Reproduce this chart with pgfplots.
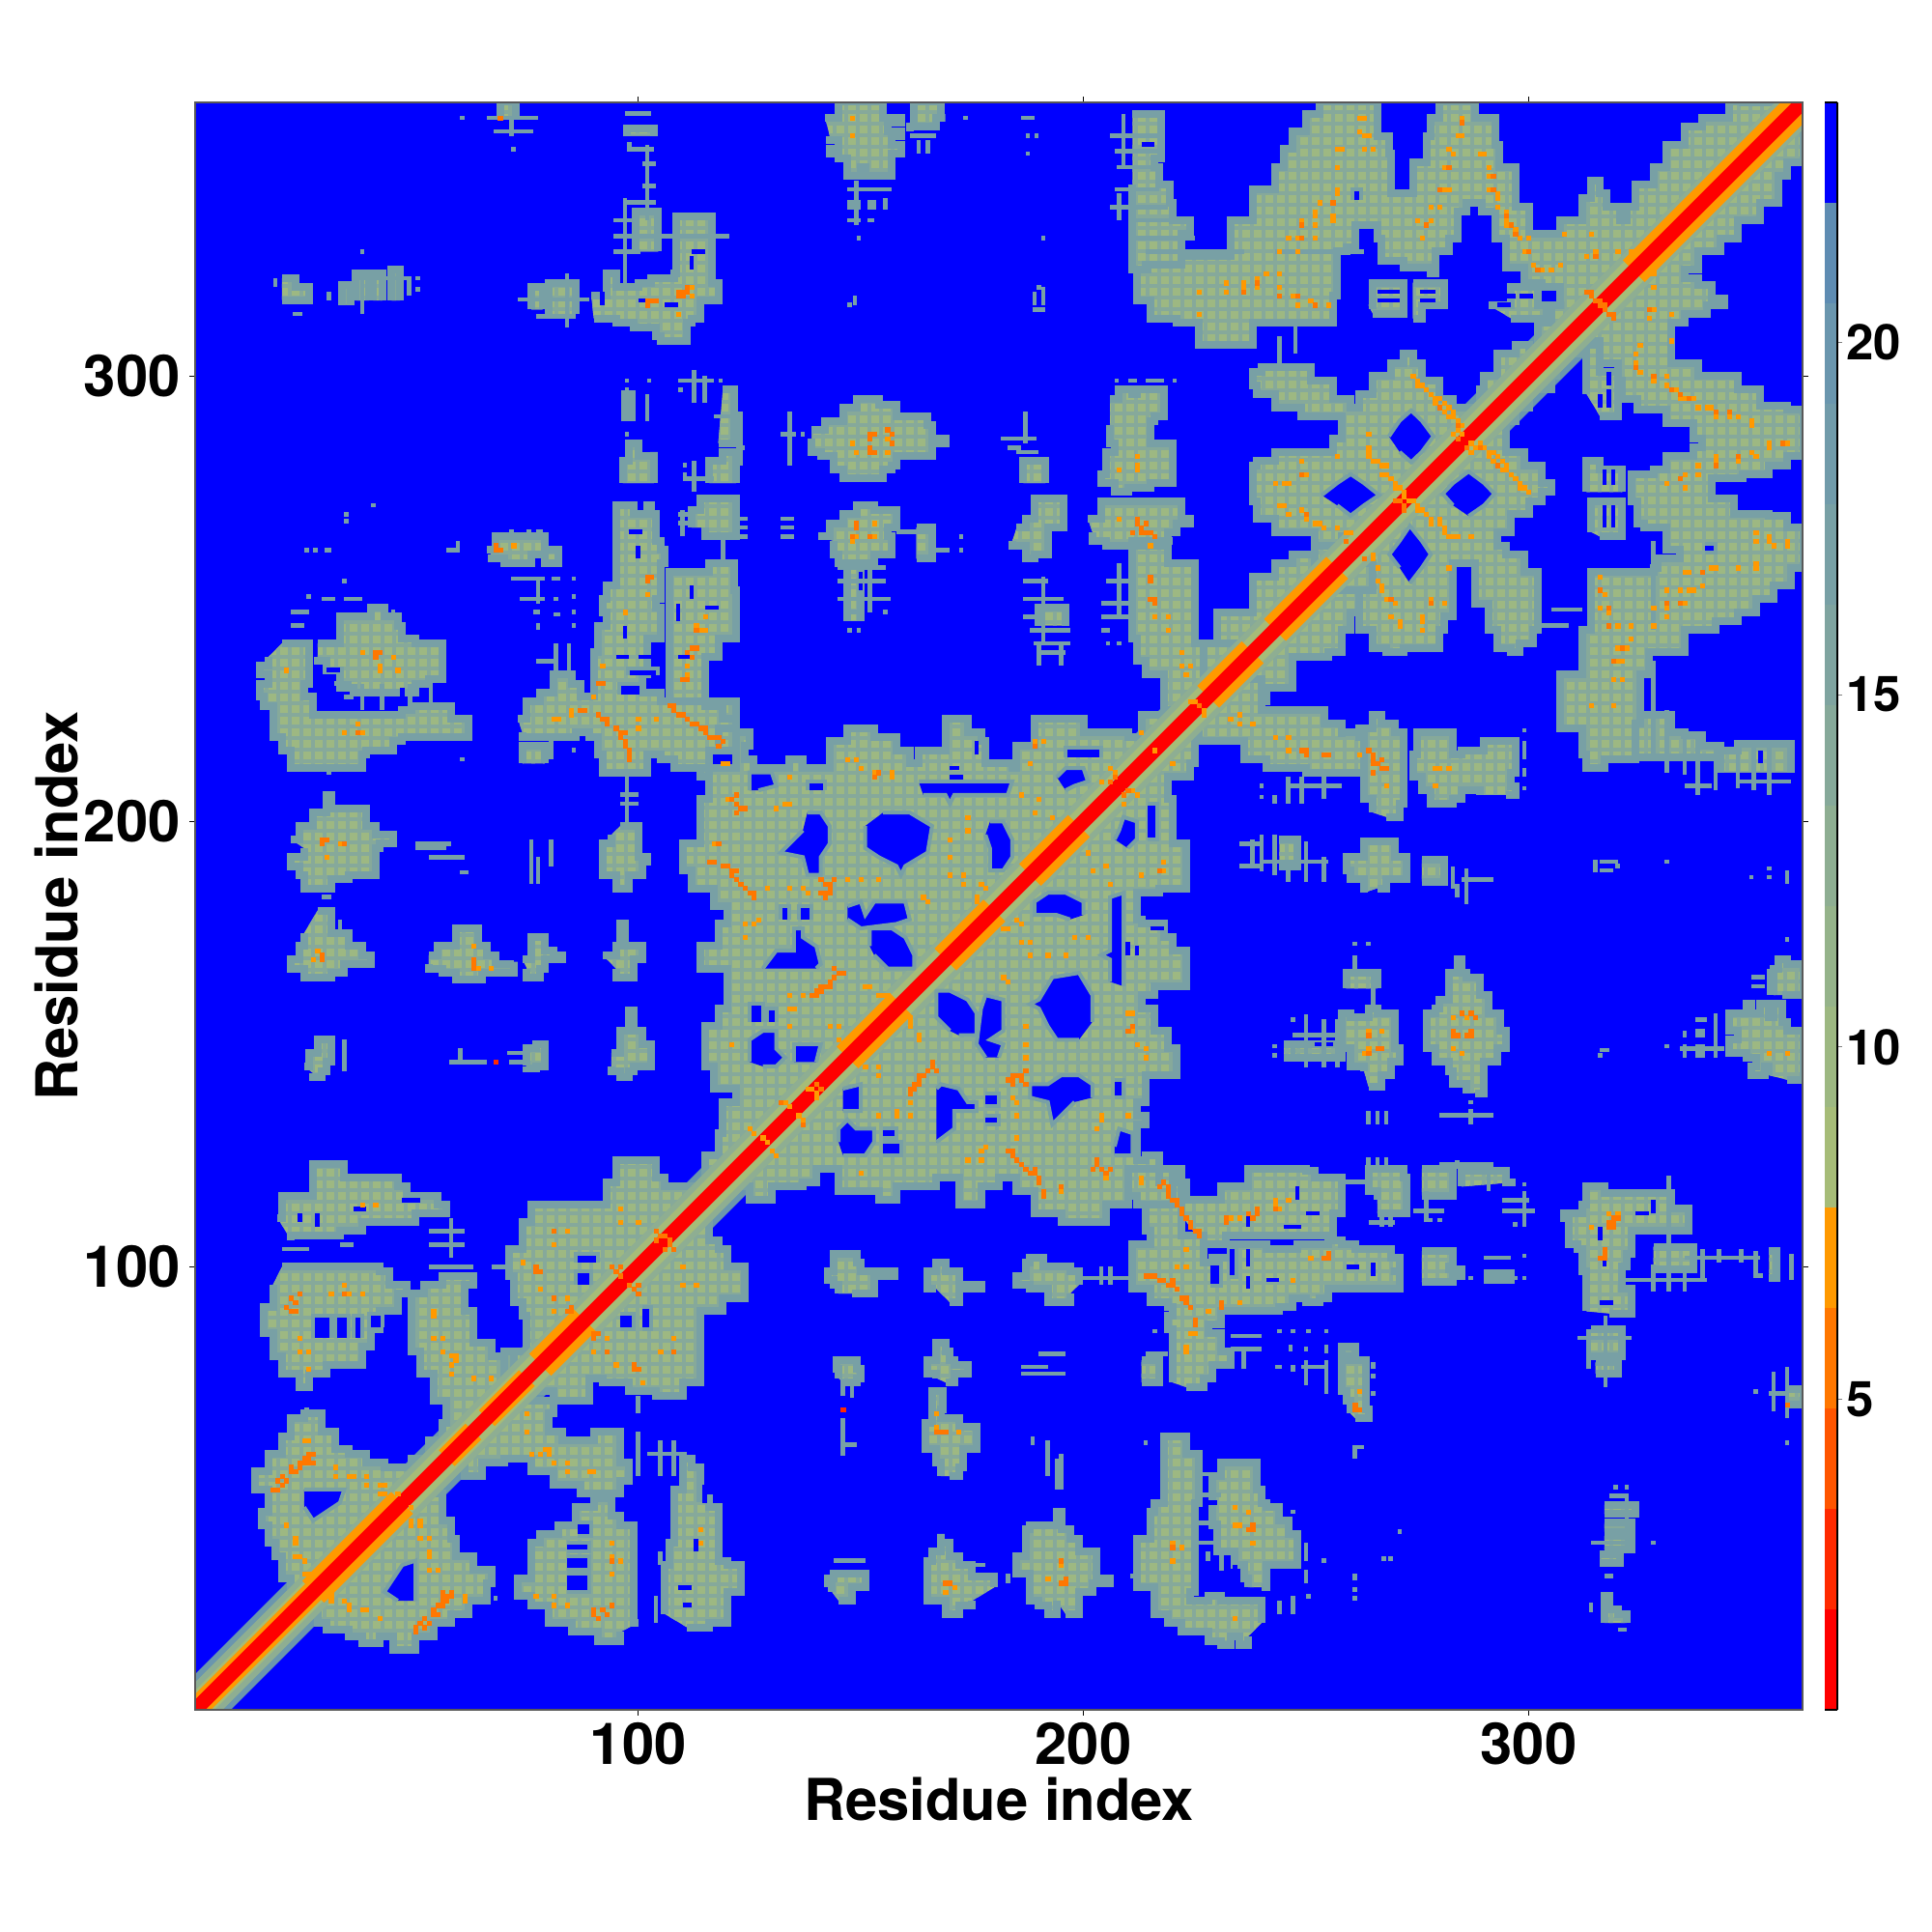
\documentclass[border=0pt]{standalone}
\usepackage{fontspec}
\setmainfont{TeX Gyre Heros}
\usepackage{pgfplots}
\usepackage{pgfplotstable}
\pgfplotsset{compat=1.18}
\usetikzlibrary{patterns.meta}

% colour levels, bottom to top of the colour bar
\definecolor{c0}{HTML}{FF0000}
\definecolor{c1}{HTML}{FF2A00}
\definecolor{c2}{HTML}{FF5500}
\definecolor{c3}{HTML}{FF7700}
\definecolor{c4}{HTML}{FF9900}
\definecolor{c5}{HTML}{A6BC78}
\definecolor{c6}{HTML}{9DB882}
\definecolor{c7}{HTML}{95B38A}
\definecolor{c8}{HTML}{8EAE92}
\definecolor{c9}{HTML}{86A99A}
\definecolor{c10}{HTML}{7FA4A0}
\definecolor{c11}{HTML}{78A0A5}
\definecolor{c12}{HTML}{719BAA}
\definecolor{c13}{HTML}{6A96AE}
\definecolor{c14}{HTML}{5E8CB2}
\definecolor{c15}{HTML}{0000FF}

% contact regions on the y>x side, mirrored when plotted
\newcommand{\fillblob}[1]{%
  \addplot[const plot,fill=c6,draw=none] table[row sep=crcr,header=false,x index=0,y index=1]{#1};
  \addplot[const plot,fill=c6,draw=none] table[row sep=crcr,header=false,x index=1,y index=0]{#1};}
\newcommand{\gridblob}[1]{%
  \addplot[const plot,draw=none,pattern={Hatch[angle=0,distance=.12cm,line width=.04cm]},pattern color=c9] table[row sep=crcr,header=false,x index=0,y index=1]{#1};
  \addplot[const plot,draw=none,pattern={Hatch[angle=0,distance=.12cm,line width=.04cm]},pattern color=c9] table[row sep=crcr,header=false,x index=1,y index=0]{#1};}
\newcommand{\drawblob}[1]{%
  \addplot[const plot,draw=c11,line width=.08cm] table[row sep=crcr,header=false,x index=0,y index=1]{#1};
  \addplot[const plot,draw=c11,line width=.08cm] table[row sep=crcr,header=false,x index=1,y index=0]{#1};}
\newcommand{\hole}[1]{%
  \addplot[fill=c15,draw=c11,line width=.04cm] table[row sep=crcr,header=false,x index=0,y index=1]{#1};
  \addplot[fill=c15,draw=c11,line width=.04cm] table[row sep=crcr,header=false,x index=1,y index=0]{#1};}

\newcommand{\allblobs}{%
\blob{53 53\\53 57\\49 55\\43 56\\39 58\\35 59\\32 63\\29 67\\25 66\\22 62\\20 58\\17 54\\14 50\\17 45\\15.5 42\\17 38\\18.5 35\\20 30\\22 28\\27 27\\}
\blob{19 111\\20 116\\27 120\\27 123\\33 123\\34 120\\46 118\\48 116\\55 114\\57 112\\50 110\\38 108\\33 107\\22 106\\}
\blob{20 100\\42 99\\44 96\\48 94\\46 90\\42 86\\40 82\\38 78\\30 76\\26 73\\24 76\\20 80\\18 85\\16 91\\18 96\\}
\blob{55 55\\53 61\\56 65\\57 70\\54 76\\51 81\\49 87\\49 94\\52 96\\56 98\\63 96\\61 90\\63 83\\67 80\\70 81\\72 72\\}
\blob{72 72\\70 81\\75 89\\74 92\\72 98\\71 104\\74 110\\76 114\\90 114\\93 119\\95 124\\100 124\\104 120\\106 118\\112 116\\115 115\\}
\blob{20 240\\25 240\\26 231\\25 228\\27 224\\47 225\\49 226\\58 226\\58 223\\62 223\\62 219\\47 218\\45 216\\39 215\\38 212\\28 212\\22 216\\20 219\\18 222\\18 226\\16 228\\15 231\\17 233\\15 235\\17 237\\}
\blob{28 240\\33 241\\33 246\\40 248\\43 246\\46 244\\47 241\\50 240\\56 239\\56 232\\53 231\\50 229\\45 229\\42 229\\36 230\\33 234\\30 236\\28 237\\}
\blob{22 196\\24 199\\27 199\\27 202\\29 202\\30 206\\31 203\\36 203\\39 199\\41 197\\45 195\\42 194\\41 188\\35 187\\31 185\\25 188\\24 190\\22 192\\25 194\\}
\blob{96 199\\99 199\\100 197\\100 192\\102 191\\101 188\\98 187\\98 185\\96 185\\95 188\\92 192\\92 195\\94 197\\}
\blob{28 180\\30.5 180\\31 175\\33 175\\35 172\\38 170\\40 168\\36 168\\34 166\\31 165\\25 165\\25 167\\22 169\\24 172\\25 175\\}
\blob{53 170\\55 172\\59 173\\59 176\\64 176\\64 172\\66 172\\66 170\\68 168\\72 168.5\\72 166\\65 166\\65 164.5\\59 164.5\\59 166\\56 167\\53 168\\}
\blob{74 169\\76 171\\76 174\\78 174\\79 171\\81 170\\83 169\\79 167\\78 165\\76 165\\75 167\\}
\blob{92 170\\95 172\\96 177\\97 172\\99 172\\101 169\\99 167\\99 165\\95 165\\95 167\\}
\blob{94 148\\96 153\\98 153\\98 157.5\\99 157.5\\99 153\\101 150\\103 149\\103 145\\99 144\\98 142.5\\97 142.5\\96 144\\94 145\\}
\blob{25 145\\26 148\\28 148\\28 151\\31 151\\31 146\\30 144\\29 142.5\\27 143.5\\}
\blob{74 146\\75 149\\77 150\\79 149\\79 145\\77 144.5\\75 145\\}
\blob{118 118\\115 125\\118 130\\119 137\\122 140\\117 145\\115 154\\118 158\\120 167\\114 172\\118 177\\120 181\\117 185\\112 189\\110 195\\114 205\\116 210\\114 212\\122 220\\125 217\\124 214\\126 212\\132 212\\134 214\\137 212\\143 214\\143 218\\147 221\\149 221\\153 219\\158 216\\161 213\\163 216\\169 223\\171 223\\174 220\\177 218\\178 213\\184 212\\185 217\\189 223\\195 223\\200 220\\205 220\\210 219\\213 224\\225 225\\}
\blob{73 223\\75 227\\78 229\\81 233\\85 231\\87 228\\90 231\\90 238\\91 244\\93 247\\92 250\\93 253\\95 255\\95 263\\95 271\\99 271\\99 269\\102 271\\103 269\\104 269\\104 263\\105 261\\106 258\\105 255\\105 250\\104 248\\105 241\\102 233\\101 229\\105 227\\107 227\\122 222\\122 216\\116 210\\114 212\\108 214\\105 215\\102 211\\95 211\\92 215\\91 219\\89 220\\86 219\\74 220\\}
\blob{105 227\\107 232\\107 256\\112 256\\116 258\\120 258\\121.6 252\\122 250\\122 241\\118 237\\115 231\\115 226\\119 223\\122 221\\118 217\\}
\blob{225 225\\218 226\\218 233\\214 236\\212 241\\211 250\\211 263\\220 263\\219 258\\222 258\\225 254\\225 240\\232 240\\238 238\\}
\blob{232 232\\227 240\\230 241\\230 247\\237 247\\238 255\\243 258\\247 260\\252 262\\258 265\\258 258\\}
\blob{201 268\\204 271\\204 272\\220 272\\222 270\\222 268\\224 267\\221 265\\219 262\\205 263\\202 265\\}
\blob{206 295\\208 297\\211 296\\212 297\\218 297\\218 291\\216 290\\215 285\\220 283\\220 276\\215 275\\210 274\\207 276\\204 278\\205 283\\207 285\\206 289\\}
\blob{211 359\\217.5 359\\217.5 349\\216 347\\217 343\\219.5 339\\220 335\\224 332\\222 325\\214.5 324\\211 343\\}
\blob{361.5 361.5\\348 361.7\\345 358\\339 356\\335 352\\331 347\\328 343\\324 338\\322 335\\320.5 338\\317.4 341\\316 344\\314 340\\312 335\\307 332\\303 332\\300 338\\297 347\\293.4 352\\292.6 358\\288 361.7\\282 361.7\\280 358\\278 354\\277 348\\274 341\\272.5 341\\269 346\\269 350\\268.6 354\\266 358\\266 361.7\\257 361.7\\253 359\\250 355\\247 351\\245 347\\243 342\\238 335\\233 327\\222 325\\214 324\\212 317\\215 313\\221 312\\226 307\\233 307\\238 312\\243 312\\256 314\\256 318\\257 328\\259 329\\261 334\\266 331\\267 326\\272 324.5\\278 323\\279 328\\282 331\\284 337\\286 339\\289.5 337\\292.6 331\\295 324.5\\299 321\\303 320\\307 316\\305 312\\302 302\\}
\blob{264 316\\265 321\\272 321\\272 314\\265 314\\}
\blob{274 321\\279 321\\281 316\\276 313\\274 313\\}
\blob{291 316\\296 320\\301 320\\302 316\\308 316\\304 313\\296 313\\}
\blob{300 300\\300 307\\297 305\\293 300\\290 297\\289 293\\283 295\\280 299\\276 303\\274 305\\272 303\\269 300\\265 296\\262 293\\260 295\\256 299\\251 302\\243 302\\240 301\\238 298\\239 296\\243 293\\249 291\\258 288\\258 286\\256 283\\246 283\\243 281\\239 280\\238 272\\239 268\\243 265\\252 262\\252 252\\}
\blob{142 358\\145 361.7\\153 361.7\\155 358\\159 357\\156 355\\159 354\\157 352\\159 350\\157 349\\157 345\\153 345\\151 347\\150 345\\148 345\\147 349\\145 351\\143 350\\145 353\\143 354\\}
\blob{161 357\\162 361.7\\168 361.7\\168 358\\169 358\\167 356\\161 355\\}
\blob{139 288\\142 290\\146 290\\146 293\\149 293\\149 295\\153 295\\154 293.5\\157 293.5\\158 291\\161 291\\165 289\\166 286\\169 285\\166 284\\166 282\\160 282\\158 280\\157 279\\155 277\\149 277\\146 279\\144 282\\141 283\\139 286\\}
\blob{140.5 264\\143 267\\146 269\\149 271\\153 270\\157 270\\158 266\\156 264\\157 260\\153 258\\149 258\\145 260\\144 263\\}
\blob{162.5 266\\166 266\\166 259\\162.5 259\\}
\blob{147 245\\147 258\\150 258\\150 245\\}
\blob{185 266\\187 268\\189 272.5\\192 272.5\\195.5 270\\195.5 266\\192 263\\192 260\\189 259\\187 260\\187 262\\184 263\\}
\blob{190 244\\190 248\\196 248\\196 244\\}
\blob{186.5 276\\186.5 281\\191.5 281\\191.5 276\\}
\blob{89.5 318\\93 323\\95 323\\95 320\\100 321\\103 322\\108 323\\108.5 336\\113 336\\116.5 332\\116.5 321\\118 317\\114 313\\112 312\\111 308\\105 309\\104 311\\99 312\\95 313\\90 313\\}
\blob{99.5 328\\99.5 337\\104.5 337\\104.5 328\\}
\blob{76 315\\76 320\\78.5 320\\78.5 315\\}
\blob{80 314\\80 321\\86 321\\86 314\\}
\blob{20 322\\22 322\\23 320\\26 318\\26 317\\20 317\\}
\blob{33.5 316\\33.5 320.5\\35.5 320.5\\35.5 316\\}
\blob{36.5 317\\36.5 323\\39.5 323\\39.5 317\\}
\blob{40.5 317\\40.5 323\\42.5 323\\42.5 317\\}
\blob{44.5 317\\44.5 324\\46.5 324\\46.5 317\\}
\blob{96.5 276\\96.5 281\\98 283\\98 285\\99.5 285\\100 282\\103.5 283\\103.5 276\\}
\blob{97 290\\97 296\\98.5 296\\98.5 290\\}
\blob{119 297\\121.6 295\\121.6 285\\118 285\\}
\blob{116 276\\116 281\\119 283\\122 283\\122 276\\}
\blob{112 266\\112 270\\114 272.5\\120 272.5\\122 272\\122 264\\117 264\\115 266\\}
\blob{66 261\\68 264\\79 263.5\\79 261\\82 261\\82 258\\80 258\\79 260\\76 258\\72 258\\70 259\\67 260\\}
\blob{69 358\\69 361.7\\72.5 361.7\\72.5 358\\}
\blob{97.5 354\\97.5 355.6\\103.5 355.6\\103.5 354\\}
\blob{74 213\\74 217\\79 217\\79 213\\}
}

% x y u v: thin runs and single cells around the regions
\pgfplotstableread[row sep=crcr]{
x y u v\\
53 108 8 0\\58 102 0 9\\53 105 8 0\\53 100 10 0\\20 104 6 0\\33 105 3 0\\67 100 4 0\\25 68 1 0\\
22 247 4 0\\22 244 3 0\\29 250 3 0\\34 250 4 0\\38 225 0 6\\42.5 225 0 6\\48.8 225 0 6\\53.4 225 0 6\\31.7 231 4 0\\34 228 2 0\\
60 214 1 0\\30 211 1 0\\29 183 2 0\\50 195 8 0\\50 194 7 0\\53 192 8 0\\60 188.6 2 0\\76 186 0 10\\77.5 186 0 6\\80.5 190 0 6\\
33 175 0 3\\34 147 0 4\\34 144 0 3\\57.6 146 8.4 0\\60 146 0 3\\70.6 148 4 0\\71 146 4 0\\97.5 199 0 11\\96 206 4 0\\96 204 4 0\\
71.5 351 1 0\\60 358 1 0\\66 358 11.5 0\\67.5 355 9 0\\71.5 354 0 4\\97 359 6 0\\97.5 351 6 0\\97.5 352 1 0\\101 347.7 3 0\\101 342.7 3 0\\102 335 0 17\\
97 339 7 0\\94.5 335 5 0\\94.5 331.5 26 0\\94.5 328 6 0\\97 321 0 19\\73 317.2 16 0\\84 311 0 12\\77 313.5 9 0\\
18.5 320 0 2\\22.5 314 2 0\\30.5 317 0 2\\36 322 13 0\\48.5 318 0 4\\50 322 1 0\\50 319.5 1 0\\37.5 328 1 0\\38 314 0 9\\
102 290 0 6\\97 299 1 0\\102 299 1 0\\97 297 1 0\\97 287 1 0\\109 299 8 0\\112.5 294 0 7.5\\115 294 0 6\\118 299 1 0\\109 297 1 0\\
117 291 4.6 0\\110 277 7 0\\112.5 274 0 7\\110 278 1 0\\110 280 1 0\\109 269 3 0\\109 267 3 0\\110 264 0 6\\119 258 0 6\\
57 261 3 0\\59.5 261 0 2\\71 265 1 0\\75 265 1 0\\77 265 1.5 0\\25 261 1 0\\27 261 1 0\\29.5 261 1.5 0\\40 271 1 0\\34 269 1 0\\34 267.5 1 0\\
71.5 254.5 7.5 0\\80.5 254.5 2 0\\73.5 250 5.5 0\\77.5 249 0 6\\81 250 1 0\\85 254.5 1 0\\85 250.5 1 0\\76.5 247 1.5 0\\81 246.5 1.5 0\\85 247 1 0\\77.5 243 0 1.5\\85 244 1 0\\33.5 254 1 0\\25.5 250.5 1 0\\44.5 247 1 0\\
81.5 233 0 7\\84.5 233 0 7\\77 236 4 0\\80.5 214 0 5\\85 216 1 0\\
188.7 240 8.3 0\\190 235 0 5\\195 235 0 5\\190 238 6 0\\205 240 1 0\\207.5 240 1 0\\
147 342 10 0\\149 334 0 10\\147 335 3 0\\151.5 338 2 0\\151.5 339 2 0\\147 338 3 0\\147 339 3 0\\155.5 337.5 0 2.5\\151.5 335 1.5 0\\
161 354 6 0\\163 350 0 3\\165 350 0 3\\173 358 1 0\\186 358 3 0\\187 354 1 0\\189 354 1 0\\187 350 1 0\\190.5 331 1 0\\149 331 1 0\\147 316 1 0\\148.7 316 0 2\\189 316 0 3\\191 316 0 4\\189.5 320 1 0\\
134 280 0 12\\123 280 0 12\\132 287 3.5 0\\136.5 287 1 0\\122 284 2 0\\132 264 3 0\\132 266 3 0\\132 268 3 0\\122 264 2.5 0\\122 266 2.5 0\\122 268 2.5 0\\
158 265 8 0\\166 261 4 0\\172 261 1 0\\172 264 1 0\\144.7 257 11 0\\144.7 254 11 0\\144.7 250 12 0\\152 247 0 11\\147 247 3 0\\155 247 1 0\\147 243 1 0\\149 243 1 0\\
186.5 254 5.5 0\\186.5 250 9 0\\188 243 9 0\\191 240 0 15\\186.5 246 4 0\\187 285 0 7\\181.5 286 8 0\\183 284 3 0\\185 283 5 0\\207 299 1 0\\210 299 2 0\\214 299 4 0\\220 299 1 0\\
206 354 11.5 0\\207 350.5 10.5 0\\207.5 347 10 0\\207 342 10 0\\206 338 13 0\\210.5 335 10 0\\211 331 14 0\\214 328 22 0\\208 335 0 6\\209 347 0 12\\
205 254 6 0\\204 249 6 0\\204 246 6 0\\204 243 2 0\\208 246 0 12\\
247.6 305 0 7\\244 303 0 6\\243 328 20 0\\
188.5 315 3 0\\
}\streaks

% x y u v: blue gaps inside the thinner parts of the regions
\pgfplotstableread[row sep=crcr]{
x y u v\\
266 319 5 0\\266 317 5 0\\275.5 319 3.5 0\\275.5 317 3.5 0\\293 318 4 0\\293 316 3 0\\298 318 3 0\\
170 210 3 0\\170 212 2 0\\176 215 0 3\\95 237 3 0\\100 237 4 0\\97 241 0 3\\109 237 3 0\\109 245 0 4\\112 250 0 3\\115 248 3 0\\
100 259 0 3\\98 265 3 0\\210 345 0 3\\213 352 3 0\\
92 316 0 3\\100 317 4 0\\106 316 3 0\\112 328 3 0\\112 324 0 3\\
150 252 0 4\\190 252 3 0\\
28 109 0 3\\36 113 3 0\\47 115 4 0\\24 110 0 2\\
30 234 3 0\\36 226 0 2\\47 228 0 2\\
}\gaps

% hotter cells, two levels
\pgfplotstableread[row sep=crcr]{
x y\\
31 94\\34 96\\35 94\\38 94\\24 84\\24 81\\26 81\\26 77\\38 114\\41 114\\54 90\\54 89\\54 84\\56 84\\56 81\\58 80\\59 80\\59 79\\58 78\\58 76\\63 75\\67 75\\74 101\\78 95\\84 93\\81 90\\81 105\\84 108\\96 113\\96 110\\100 110\\
25 61\\26 61\\32 55\\32 53\\35 53\\36 53\\39 53\\39 51\\42 51\\43 51\\42 49\\43 49\\46 49\\21 42\\23 39\\23 38\\23 35\\24 35\\25 34\\25 31\\26 31\\27 31\\
21 234\\38 238\\45 237\\46 234\\42 234\\42 235\\37 222\\38 220\\34 220\\33 195\\30 192\\27 169\\28 171\\63 172\\67 167\\64 167\\92 235\\90 228\\85 224\\85 225\\81 223\\82 223\\100 223\\100 221\\104 223\\119 213\\120 213\\111 235\\111 233\\120 205\\117 195\\121 150\\
72 262\\112 320\\112 318\\109 314\\102 251\\97 247\\113 244\\115 246\\114 243\\115 243\\
189 218\\191 218\\188 213\\147 214\\149 214\\150 212\\153 211\\157 211\\157 210\\134 210\\186 206\\190 205\\189 202\\193 201\\133 204\\131 203\\134 204\\174 201\\174 198\\170 196\\170 192\\170 188\\173 188\\173 186\\177 186\\178 185\\176 182\\176 183\\164 183\\165 182\\
147 187\\150 187\\154 187\\134 185\\137 185\\138 184\\129 185\\124 177\\126 177\\127 178\\124 174\\134 161\\137 161\\151 163\\152 163\\155 161\\154 161\\156 161\\134 158\\134 154\\135 158\\143 154\\145 154\\145 151\\
138 140\\139 140\\133 137\\134 136\\125 131\\126 130\\128 129\\206 212\\207 211\\204 209\\213 220\\216 216\\223 233\\222 238\\222 235\\224 235\\225 227\\224 227\\
148 358\\148 354\\156 286\\148 285\\156 283\\149 283\\149 264\\153 267\\153 264\\148 263\\208 268\\215 262\\212 280\\212 282\\212 279\\208 279\\216 246\\219 246\\219 243\\
226 319\\226 314\\232 321\\232 319\\236 321\\236 320\\239 322\\241 323\\239 320\\
262 358\\263 358\\262 355\\263 354\\264 354\\257 351\\258 351\\263 351\\265 351\\257 347\\257 342\\257 341\\253 339\\252 337\\252 336\\256 336\\249 335\\252 334\\256 335\\248 331\\252 331\\246 331\\244 328\\248 328\\244 323\\244 320\\247 318\\251 317\\248 316\\255 316\\
285 358\\284 354\\285 354\\282 351\\283 350\\289 350\\290 350\\281 347\\291 347\\291 345\\281 342\\282 342\\291 342\\293 341\\293 340\\278 338\\280 338\\293 338\\295 337\\295 335\\275 335\\278 335\\295 334\\297 333\\276 331\\298 331\\300 331\\299 328\\301 325\\303 324\\305 324\\307 325\\313 327\\314 332\\315 328\\320 328\\308 332\\323 328\\324 328\\
274 300\\275 299\\275 298\\276 298\\277 297\\278 296\\279 295\\280 295\\279 294\\281 294\\281 292\\282 293\\282 291\\283 292\\283 291\\284 290\\285 289\\284 288\\283 287\\285 287\\
264 287\\264 284\\264 283\\265 281\\264 282\\266 281\\267 280\\268 280\\267 278\\268 278\\269 277\\270 276\\270 275\\271 275\\272 274\\272 273\\257 282\\249 281\\250 278\\246 276\\245 276\\243 276\\244 271\\245 271\\246 269\\249 270\\250 268\\252 267\\253 267\\254 266\\257 266\\259 265\\260 265\\
}\hotA
\pgfplotstableread[row sep=crcr]{
x y\\
21 91\\22 93\\23 92\\24 94\\23 90\\22 90\\34 94\\77 99\\78 99\\77 100\\81 93\\84 90\\85 90\\85 91\\81 108\\94 100\\96 100\\95 99\\96 98\\104 108\\106 107\\105 107\\104 106\\
18 50\\19 50\\20 51\\19 52\\21 52\\20 53\\22 54\\23 54\\22 55\\24 55\\25 56\\24 56\\25 57\\26 57\\26 58\\27 58\\26 56\\27 56\\
41 238\\42 238\\41 237\\37 220\\29 196\\29 195\\30 196\\34 195\\29 170\\29 169\\63 169\\63 168\\63 167\\91 231\\92 231\\87 225\\88 225\\91 224\\92 223\\93 223\\93 222\\95 221\\96 220\\96 219\\97 220\\97 218\\97 217\\98 216\\98 215\\98 214\\
107 226\\108 226\\108 225\\109 224\\110 224\\111 223\\112 222\\113 222\\114 221\\115 221\\115 220\\116 219\\117 219\\118 219\\119 218\\118 217\\112 239\\113 239\\111 238\\112 237\\111 232\\110 232\\121 205\\122 206\\118 195\\116 191\\117 191\\119 190\\120 190\\121 189\\122 189\\121 188\\
69 358\\68 261\\68 262\\69 261\\102 316\\102 317\\103 317\\104 317\\109 318\\110 318\\109 319\\110 319\\111 319\\111 320\\102 254\\102 255\\103 255\\113 243\\
189 217\\153 210\\154 211\\122 204\\123 203\\122 202\\124 203\\141 187\\142 186\\143 186\\144 187\\141 184\\142 184\\143 184\\142 183\\143 185\\122 187\\123 186\\124 185\\125 184\\126 184\\126 183\\
146 166\\145 166\\144 165\\143 164\\142 163\\141 162\\140 161\\140 162\\143 163\\141 163\\139 161\\144 167\\
140 141\\132 137\\207 210\\206 209\\226 226\\
152 287\\152 286\\153 287\\157 287\\157 285\\156 288\\152 284\\152 283\\153 283\\149 266\\149 267\\148 264\\152 264\\212 267\\212 268\\213 266\\214 265\\214 267\\213 265\\215 265\\216 264\\211 265\\215 254\\215 255\\215 250\\216 250\\216 249\\
236 319\\239 321\\
256 339\\249 334\\249 331\\248 318\\252 316\\244 318\\
285 357\\282 347\\292 345\\292 342\\280 342\\295 336\\277 334\\296 334\\297 332\\300 328\\302 324\\315 327\\313 319\\314 319\\314 318\\315 317\\316 317\\316 316\\
280 293\\284 289\\284 286\\270 272\\271 272\\249 278\\250 269\\259 263\\
}\hotB

\begin{document}
\begin{tikzpicture}
\useasboundingbox (0,0) rectangle (20cm,20cm);
\begin{axis}[
    at={(2.02cm,2.30cm)}, anchor=south west,
    scale only axis, width=16.64cm, height=16.64cm,
    xmin=0.5, xmax=361.5, ymin=0.5, ymax=361.5,
    xtick={100,200,300}, ytick={100,200,300},
    tick align=outside, major tick length=.06cm,
    tick style={black,line width=.3pt},
    axis line style={gray!70!black,line width=.3pt},
    axis background/.style={fill=c15},
    axis on top,
    /pgf/number format/assume math mode=true,
    ticklabel style={font=\fontsize{17}{17}\selectfont\bfseries},
    x tick label style={yshift=.05cm},
    y tick label style={xshift=.03cm},
    label style={font=\fontsize{17}{17}\selectfont\bfseries},
    xlabel={Residue index}, ylabel={Residue index},
    xlabel style={at={(axis description cs:0.5,-0.0555)},anchor=center},
    ylabel style={at={(axis description cs:-0.0865,0.5)},anchor=center},
]
\addplot[c13,line width=.52cm] coordinates {(0,0) (362,362)};
\addplot[c9,line width=.4cm] coordinates {(0,0) (362,362)};
\let\blob\fillblob
\allblobs
\let\blob\gridblob
\allblobs
\let\blob\drawblob
\allblobs
\addplot[c8,line width=.4cm] coordinates {(0,0) (362,362)};

% holes in the large regions
\hole{27 84\\27 89\\31 89\\31 84\\}
\hole{32 84\\32 89\\35 89\\35 84\\}
\hole{36 84\\36 89\\38 89\\38 84\\}
\hole{39.5 86.5\\39.5 89.5\\42.5 89.5\\42.5 86.5\\}
\hole{86 96\\86 99\\89.5 99\\89.5 96\\}
\hole{86 101\\86 103\\91 103\\91 101\\}
\hole{25 50\\34 50\\33 47\\30 45\\27 43\\25 46\\}
\hole{95.7 228.5\\95.7 231\\100.7 231\\100.7 228.5\\}
\hole{97.6 232.8\\97.6 234.3\\104.5 234.3\\104.5 232.8\\}
\hole{125 207\\125 211\\130 211\\131 208\\127 207\\}
\hole{138 207\\138 209\\142 209\\142 207\\}
\hole{138 202\\141 202\\143 199\\143 195\\141 192\\141 188\\138 188\\137 192\\132 193\\137 198\\}
\hole{155 202\\161 202\\166 199\\165 193\\160 190\\159 188\\158 190\\154 192\\151 194\\151 199\\}
\hole{179 200\\182 200\\184 196\\184 192\\182 189\\179 189\\179 194\\178 197\\}
\hole{163 209\\184 209\\183 206\\171 206\\170 204\\169 206\\164 206\\}
\hole{194 210\\196 212\\200 212\\201 209\\198 208\\196 207\\}
\hole{196 214.5\\196 216.5\\204 216.5\\204 214.5\\}
\hole{132 178\\132 181\\134 181\\134 178\\}
\hole{136 178\\136 181\\139 181\\139 178\\}
\hole{128 167\\131 171\\135 171\\135 176\\137 176\\137 174\\140 172\\141 168\\140 167\\}
\hole{147 181\\150 182\\151 179\\153 182\\160 182\\161 178\\158 177\\150 176\\147 178\\}
\hole{152 172\\152 176\\157 176\\160 174\\162 170\\162 167\\156 167\\153 170\\}
\hole{125 155\\125 159\\128 159\\128 155\\}
\hole{129 155\\129 158\\131 158\\131 155\\}
\hole{125 146\\125 151\\128 153\\131 153\\131 149\\133 147\\131 145\\128 145\\}
\hole{135 146\\135 150\\141 150\\140 146\\}
\hole{268.6 286.5\\271 290\\273.6 292.3\\276 290\\278.6 286.5\\276 283\\273.6 280.7\\271 283\\}
\hole{253.5 273.3\\257 276\\260 278\\263 276\\266.4 273.3\\263 271\\260 268.7\\257 271\\}
\hole{260.5 339.5\\260.5 342\\262.4 342\\262.4 339.5\\}

% gaps and thin runs
\addplot[c15,line width=.046cm,quiver={u=\thisrow{u},v=\thisrow{v}}] table[x=x,y=y]{\gaps};
\addplot[c15,line width=.046cm,quiver={u=\thisrow{v},v=\thisrow{u}}] table[x=y,y=x]{\gaps};
\addplot[c11,line width=.046cm,quiver={u=\thisrow{u},v=\thisrow{v}}] table[x=x,y=y]{\streaks};
\addplot[c11,line width=.046cm,quiver={u=\thisrow{v},v=\thisrow{u}}] table[x=y,y=x]{\streaks};

% diagonal
\addplot[c5,line width=.28cm] coordinates {(0,0) (362,362)};
\addplot[c4,line width=.23cm] coordinates {(0,0) (27,27)};
\addplot[c4,line width=.32cm] coordinates {(27,27) (47,47)};
\addplot[c4,line width=.23cm] coordinates {(57,57) (63,63)};
\addplot[c4,line width=.23cm] coordinates {(66,66) (75,75)};
\addplot[c4,line width=.32cm] coordinates {(78,78) (88,88)};
\addplot[c4,line width=.32cm] coordinates {(147,147) (159,159)};
\addplot[c4,line width=.32cm] coordinates {(169,169) (180,180)};
\addplot[c4,line width=.32cm] coordinates {(188,188) (199,199)};
\addplot[c4,line width=.32cm] coordinates {(228,228) (238,238)};
\addplot[c4,line width=.32cm] coordinates {(243,243) (257,257)};
\addplot[c4,line width=.32cm] coordinates {(323.6,323.6) (362,362)};

% hot cells
\addplot[only marks,mark=square*,mark size=.6pt,mark options={draw=c4,fill=c4,line width=.1pt}] table[x=x,y=y]{\hotA};
\addplot[only marks,mark=square*,mark size=.6pt,mark options={draw=c4,fill=c4,line width=.1pt}] table[x=y,y=x]{\hotA};
\addplot[only marks,mark=square*,mark size=.6pt,mark options={draw=c3,fill=c3,line width=.1pt}] table[x=x,y=y]{\hotB};
\addplot[only marks,mark=square*,mark size=.6pt,mark options={draw=c3,fill=c3,line width=.1pt}] table[x=y,y=x]{\hotB};
\addplot[only marks,mark=square*,mark size=.6pt,mark options={draw=c1,fill=c1,line width=.1pt}] coordinates {(68,146) (146,68)};

\addplot[c0,line width=.15cm] coordinates {(0,0) (362,362)};
\end{axis}

% colour bar
\begin{axis}[
    at={(18.89cm,2.30cm)}, anchor=south west,
    scale only axis, width=.13cm, height=16.64cm,
    xmin=0, xmax=1, ymin=0.6, ymax=23.4,
    xtick=\empty, ytick={5,10,15,20},
    axis y line*=right,
    tick align=outside, major tick length=.05cm,
    tick style={gray,line width=.3pt},
    axis on top,
    /pgf/number format/assume math mode=true,
    ticklabel style={font=\fontsize{14.5}{15}\selectfont\bfseries},
    y tick label style={xshift=-.08cm},
]
\addplot[fill=c0,draw=none] coordinates {(0,0.6) (1,0.6) (1,2.025) (0,2.025)};
\addplot[fill=c1,draw=none] coordinates {(0,2.025) (1,2.025) (1,3.45) (0,3.45)};
\addplot[fill=c2,draw=none] coordinates {(0,3.45) (1,3.45) (1,4.875) (0,4.875)};
\addplot[fill=c3,draw=none] coordinates {(0,4.875) (1,4.875) (1,6.3) (0,6.3)};
\addplot[fill=c4,draw=none] coordinates {(0,6.3) (1,6.3) (1,7.725) (0,7.725)};
\addplot[fill=c5,draw=none] coordinates {(0,7.725) (1,7.725) (1,9.15) (0,9.15)};
\addplot[fill=c6,draw=none] coordinates {(0,9.15) (1,9.15) (1,10.575) (0,10.575)};
\addplot[fill=c7,draw=none] coordinates {(0,10.575) (1,10.575) (1,12) (0,12)};
\addplot[fill=c8,draw=none] coordinates {(0,12) (1,12) (1,13.425) (0,13.425)};
\addplot[fill=c9,draw=none] coordinates {(0,13.425) (1,13.425) (1,14.85) (0,14.85)};
\addplot[fill=c10,draw=none] coordinates {(0,14.85) (1,14.85) (1,16.275) (0,16.275)};
\addplot[fill=c11,draw=none] coordinates {(0,16.275) (1,16.275) (1,17.7) (0,17.7)};
\addplot[fill=c12,draw=none] coordinates {(0,17.7) (1,17.7) (1,19.125) (0,19.125)};
\addplot[fill=c13,draw=none] coordinates {(0,19.125) (1,19.125) (1,20.55) (0,20.55)};
\addplot[fill=c14,draw=none] coordinates {(0,20.55) (1,20.55) (1,21.975) (0,21.975)};
\addplot[fill=c15,draw=none] coordinates {(0,21.975) (1,21.975) (1,23.4) (0,23.4)};
\end{axis}
\end{tikzpicture}
\end{document}
